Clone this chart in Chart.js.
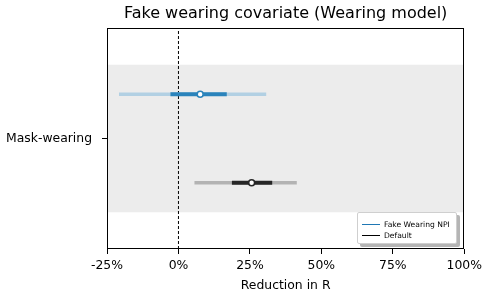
<!DOCTYPE html>
<html>
<head>
<meta charset="utf-8">
<script src="https://cdn.jsdelivr.net/npm/chart.js@4.4.0/dist/chart.umd.min.js"></script>
<style>
  html, body { margin: 0; padding: 0; background: #fff; }
  #wrap { position: relative; width: 486px; height: 297px; }
  #legend {
    position: absolute; left: 357px; top: 212px; width: 98px; height: 30px;
    background: #fff; border: 1px solid #cfcfcf; border-radius: 2px; box-shadow: 3px 3px 0 #b5b5b5;
    font-family: "DejaVu Sans", sans-serif; font-size: 7.6px; color: #000;
  }
  #legend div { position: absolute; left: 4px; height: 9px; line-height: 9px; white-space: nowrap; }
  #legend span { display: inline-block; width: 18px; height: 0; border-top: 1.5px solid; vertical-align: middle; margin-right: 4px; }
</style>
</head>
<body>
<div id="wrap">
  <canvas id="forestChart" width="486" height="297"></canvas>
  <div id="legend">
    <div style="top:7px"><span style="border-color:#1f77b4"></span>Fake Wearing NPI</div>
    <div style="top:18px"><span style="border-color:#000"></span>Default</div>
  </div>
</div>
<script>
  // Data
  const rowLabel = 'Mask-wearing';
  const xTicks = [-25, 0, 25, 50, 75, 100];
  const seriesNames = ['Fake Wearing NPI', 'Default'];
  const rowPos = [0.6, -0.6];          // y positions of the two rows
  const medians = [7.6, 25.6];
  const inner = [[-2.8, 16.9], [18.7, 32.8]];   // 50% interval
  const outer = [[-20.8, 30.7], [5.6, 41.4]];   // 95% interval
  const darkColors = ['#2a83bb', '#262626'];
  const lightColors = ['#b2d0e3', '#b3b3b3'];

  const datasets = [];
  // grey band behind the estimates
  datasets.push({
    data: [{ x: -25, y: 1 }, { x: 100, y: 1 }],
    showLine: true, borderWidth: 0, pointRadius: 0,
    backgroundColor: '#ececec', fill: { value: -1 }, order: 10
  });
  // zero reference line
  datasets.push({
    data: [{ x: 0, y: -1.5 }, { x: 0, y: 1.5 }],
    showLine: true, borderColor: '#000', borderWidth: 1, borderDash: [3, 2],
    pointRadius: 0, order: 9
  });
  for (let i = 0; i < seriesNames.length; i++) {
    datasets.push({
      data: outer[i].map(v => ({ x: v, y: rowPos[i] })),
      showLine: true, borderColor: lightColors[i], borderWidth: 3.5, pointRadius: 0, order: 5
    });
    datasets.push({
      data: inner[i].map(v => ({ x: v, y: rowPos[i] })),
      showLine: true, borderColor: darkColors[i], borderWidth: 4, pointRadius: 0, order: 4
    });
    datasets.push({
      data: [{ x: medians[i], y: rowPos[i] }],
      pointRadius: 3, pointBorderWidth: 1.6, pointBackgroundColor: '#fff',
      pointBorderColor: darkColors[i], order: 1
    });
  }

  // frame around plot area
  const frame = {
    id: 'frame',
    afterDatasetsDraw(chart) {
      const a = chart.chartArea, c = chart.ctx;
      c.save();
      c.strokeStyle = '#000';
      c.lineWidth = 1;
      c.strokeRect(Math.round(a.left) + 0.5, Math.round(a.top) + 0.5,
        Math.round(a.right - a.left) - 1, Math.round(a.bottom - a.top) - 1);
      c.restore();
    }
  };

  const axisFont = { family: 'DejaVu Sans', size: 12.4 };

  const ctx = document.getElementById('forestChart').getContext('2d');
  const forestChart = new Chart(ctx, {
    type: 'scatter',
    data: { datasets: datasets },
    options: {
      responsive: false,
      animation: false,
      layout: { padding: { left: 0, right: 20, top: 0, bottom: 0 } },
      plugins: {
        legend: { display: false },
        tooltip: { enabled: false }
      },
      scales: {
        x: {
          min: -25, max: 100,
          afterBuildTicks: s => { s.ticks = xTicks.map(v => ({ value: v })); },
          afterFit: s => { s.height = 48; },
          ticks: {
            color: '#000', font: axisFont, padding: 4,
            maxRotation: 0, callback: v => v + '%'
          },
          grid: { drawOnChartArea: false, color: '#000', tickLength: 5 },
          border: { display: false },
          title: {
            display: true, text: 'Reduction in R', color: '#000',
            font: axisFont, padding: { top: 2, bottom: 4 }
          }
        },
        x2: {
          position: 'top', min: -25, max: 100,
          afterFit: s => { s.height = 28; },
          ticks: { display: false },
          grid: { display: false },
          border: { display: false },
          title: {
            display: true, text: 'Fake wearing covariate (Wearing model)', color: '#000',
            font: { family: 'DejaVu Sans', size: 16 }, padding: { top: 4, bottom: 4 }
          }
        },
        y: {
          min: -1.5, max: 1.5,
          afterBuildTicks: s => { s.ticks = [{ value: 0 }]; },
          afterFit: s => { s.width = 107; },
          ticks: {
            color: '#000', font: axisFont, padding: 10,
            callback: () => rowLabel
          },
          grid: { drawOnChartArea: false, color: '#000', tickLength: 5 },
          border: { display: false }
        }
      }
    },
    plugins: [frame]
  });
</script>
</body>
</html>
